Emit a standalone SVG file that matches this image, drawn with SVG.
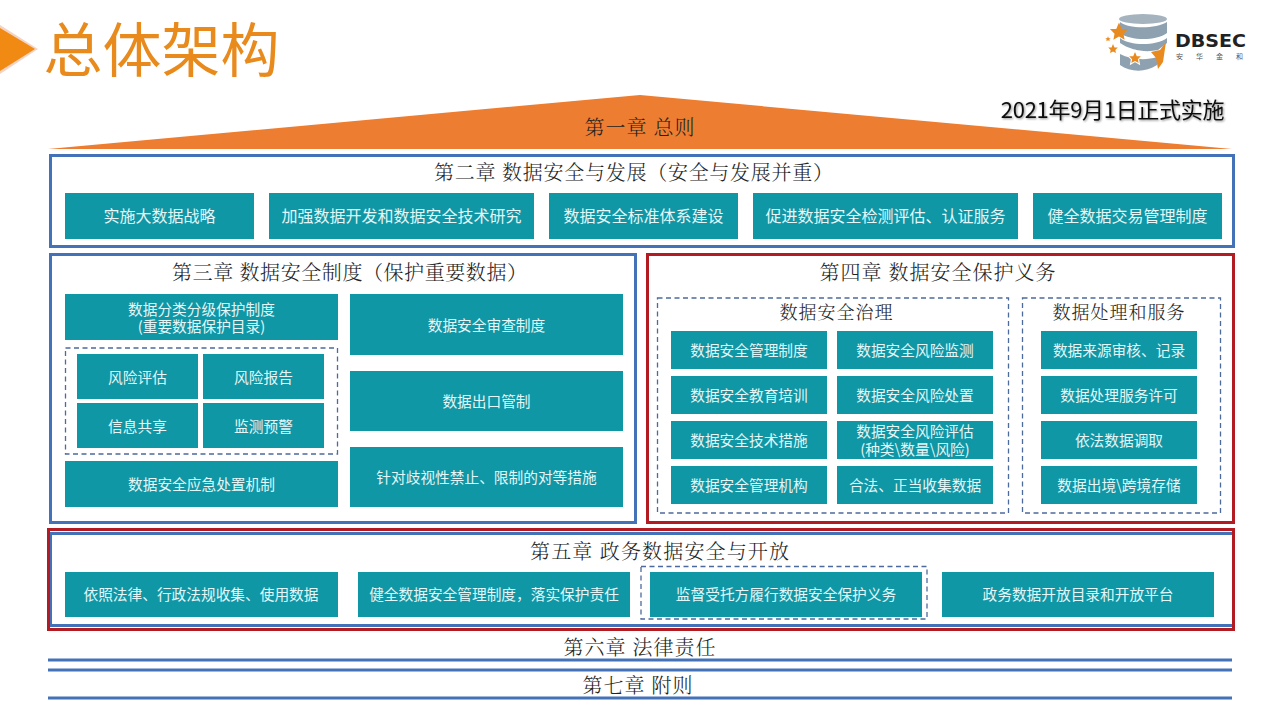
<svg xmlns="http://www.w3.org/2000/svg" width="1280" height="720" viewBox="0 0 1280 720">
<defs>
<filter id="ts" x="-5%" y="-20%" width="110%" height="140%"><feDropShadow dx="1" dy="1" stdDeviation="0.8" flood-color="#000" flood-opacity="0.45"/></filter>
<polygon id="star" points="0,-10 2.9,-3.1 9.5,-3.1 4.7,1.8 5.9,8.1 0,4.8 -5.9,8.1 -4.7,1.8 -9.5,-3.1 -2.9,-3.1"/>
</defs>
<style>
.b{fill:#0f97a6}
.t{font-family:"Noto Sans CJK SC","Liberation Sans",sans-serif;font-size:14.7px;fill:#e4f6f8;text-anchor:middle;dominant-baseline:central}
.l{font-size:16px}
.h{font-family:"Noto Serif CJK SC","Noto Sans CJK SC",serif;font-size:20px;font-weight:300;fill:#222;text-anchor:middle;dominant-baseline:central;letter-spacing:1px}
.bl{fill:none;stroke:#4472b8;stroke-width:3}
.rd{fill:none;stroke:#b31b22;stroke-width:3}
.d{fill:none;stroke:#4d6a9c;stroke-width:1.3;stroke-dasharray:5 3.5}
.ln{stroke:#4472b8;stroke-width:3}
</style>
<rect width="1280" height="720" fill="#fff"/>
<g id="title">
<polygon points="0,25 38,49 0,74" fill="#f3d3c4"/>
<polygon points="0,28 35,49 0,71" fill="#f08a12"/>
<text x="43.500" y="72" font-family="Noto Sans CJK SC,sans-serif" font-size="59" fill="#e88a1c">总体架构</text>
</g>
<g id="logo">
<ellipse cx="1143" cy="19" rx="24" ry="5" fill="#a5b3bf"/>
<path d="M1120,22C1128,29 1156,29 1167,22V33C1156,41 1131,41 1120,33Z" fill="#8ea1b1"/>
<path d="M1120,38C1130,46 1156,46 1167,38V43L1158,50C1145,53 1130,50 1120,43Z" fill="#8ea1b1"/>
<path d="M1120,54C1130,59 1145,61 1157,57V65C1145,73 1130,72 1120,65Z" fill="#8ea1b1"/>
<path d="M1151,52L1160,50L1166,42L1163,62L1158,69L1156,58Z" fill="#e98a1e"/>
<use href="#star" transform="translate(1119,32) scale(.95)" fill="#e98a1e"/>
<use href="#star" transform="translate(1113,49) scale(.5)" fill="#e98a1e"/>
<use href="#star" transform="translate(1108,39) scale(.28)" fill="#e98a1e"/>
<use href="#star" transform="translate(1135,58) scale(.75)" fill="#e98a1e" stroke="#fff" stroke-width="1.500"/>
<text x="1175" y="47" font-family="DejaVu Sans,sans-serif" font-size="17.500" font-weight="700" fill="#222" textLength="71" lengthAdjust="spacingAndGlyphs">DBSEC</text>
<text x="1176" y="59" font-family="Noto Sans CJK SC,sans-serif" font-size="7" fill="#555">安</text>
<text x="1196" y="59" font-family="Noto Sans CJK SC,sans-serif" font-size="7" fill="#555">华</text>
<text x="1216" y="59" font-family="Noto Sans CJK SC,sans-serif" font-size="7" fill="#555">金</text>
<text x="1236" y="59" font-family="Noto Sans CJK SC,sans-serif" font-size="7" fill="#555">和</text>
</g>
<g id="date"><text x="1112.500" y="108" filter="url(#ts)" font-family="Noto Sans CJK SC,sans-serif" font-size="22" fill="#111" text-anchor="middle" dominant-baseline="central" letter-spacing="-.3">2021年9月1日正式实施</text></g>
<g id="ch1"><polygon points="48,149 640,95 1232,149" fill="#ed7d31"/><text class="h" x="640" y="126">第一章 总则</text></g>
<g id="ch2"><rect class="bl" x="50.500" y="155.500" width="1183" height="91"/><text class="h" x="634" y="171" textLength="400">第二章 数据安全与发展（安全与发展并重）</text>
<rect class="b" x="65" y="193" width="189" height="46"/><text class="t l" x="159.500" y="215">实施大数据战略</text>
<rect class="b" x="269" y="193" width="265" height="46"/><text class="t l" x="401.500" y="215">加强数据开发和数据安全技术研究</text>
<rect class="b" x="549" y="193" width="189" height="46"/><text class="t l" x="643.500" y="215">数据安全标准体系建设</text>
<rect class="b" x="753" y="193" width="265" height="46"/><text class="t l" x="885.500" y="215">促进数据安全检测评估、认证服务</text>
<rect class="b" x="1033" y="193" width="189" height="46"/><text class="t l" x="1127.500" y="215">健全数据交易管理制度</text></g>
<g id="ch3"><rect class="bl" x="50.500" y="254.500" width="585" height="268"/><text class="h" x="350" y="271" textLength="356">第三章 数据安全制度（保护重要数据）</text>
<rect class="b" x="65" y="294" width="273" height="46"/><text class="t"><tspan x="201.500" y="308">数据分类分级保护制度</tspan><tspan x="201.500" y="325">(重要数据保护目录)</tspan></text>
<rect class="d" x="65.500" y="348" width="272" height="106"/>
<rect class="b" x="77" y="354" width="121" height="45"/><text class="t" x="137.500" y="376">风险评估</text>
<rect class="b" x="203" y="354" width="121" height="45"/><text class="t" x="263.500" y="376">风险报告</text>
<rect class="b" x="77" y="403" width="121" height="45"/><text class="t" x="137.500" y="425">信息共享</text>
<rect class="b" x="203" y="403" width="121" height="45"/><text class="t" x="263.500" y="425">监测预警</text>
<rect class="b" x="65" y="461" width="273" height="46"/><text class="t" x="201.500" y="483">数据安全应急处置机制</text>
<rect class="b" x="350" y="294" width="273" height="61"/><text class="t" x="486.500" y="324">数据安全审查制度</text>
<rect class="b" x="350" y="371" width="273" height="60"/><text class="t" x="486.500" y="400">数据出口管制</text>
<rect class="b" x="350" y="447" width="273" height="60"/><text class="t" x="486.500" y="476">针对歧视性禁止、限制的对等措施</text></g>
<g id="ch4"><rect class="rd" x="647.500" y="254.500" width="586" height="268"/><text class="h" x="938" y="271">第四章 数据安全保护义务</text>
<rect class="d" x="657.500" y="298" width="351" height="215"/><text class="h" x="836.500" y="311" style="font-size:18px">数据安全治理</text>
<rect class="b" x="671" y="331" width="156" height="38"/><text class="t" x="749" y="349">数据安全管理制度</text>
<rect class="b" x="837" y="331" width="156" height="38"/><text class="t" x="915" y="349">数据安全风险监测</text>
<rect class="b" x="671" y="376" width="156" height="38"/><text class="t" x="749" y="394">数据安全教育培训</text>
<rect class="b" x="837" y="376" width="156" height="38"/><text class="t" x="915" y="394">数据安全风险处置</text>
<rect class="b" x="671" y="421" width="156" height="38"/><text class="t" x="749" y="439">数据安全技术措施</text>
<rect class="b" x="837" y="421" width="156" height="38"/><text class="t"><tspan x="915" y="430">数据安全风险评估</tspan><tspan x="915" y="448">(种类\数量\风险)</tspan></text>
<rect class="b" x="671" y="466" width="156" height="38"/><text class="t" x="749" y="484">数据安全管理机构</text>
<rect class="b" x="837" y="466" width="156" height="38"/><text class="t" x="915" y="484">合法、正当收集数据</text>
<rect class="d" x="1022.500" y="298" width="198" height="215"/><text class="h" x="1119" y="311" style="font-size:18px">数据处理和服务</text>
<rect class="b" x="1041" y="331" width="156" height="38"/><text class="t" x="1119" y="349">数据来源审核、记录</text>
<rect class="b" x="1041" y="376" width="156" height="38"/><text class="t" x="1119" y="394">数据处理服务许可</text>
<rect class="b" x="1041" y="421" width="156" height="38"/><text class="t" x="1119" y="439">依法数据调取</text>
<rect class="b" x="1041" y="466" width="156" height="38"/><text class="t" x="1119" y="484">数据出境\跨境存储</text></g>
<g id="ch5"><rect class="bl" x="50.500" y="533.500" width="1183" height="92"/><rect class="rd" x="48.500" y="529.500" width="1185" height="100"/><text class="h" x="660" y="550" textLength="260">第五章 政务数据安全与开放</text>
<rect class="b" x="65" y="572" width="273" height="45"/><text class="t" x="201" y="593">依照法律、行政法规收集、使用数据</text>
<rect class="b" x="358" y="572" width="272" height="45"/><text class="t" x="494" y="593">健全数据安全管理制度，落实保护责任</text>
<rect class="d" x="641" y="566.500" width="286" height="52.500"/>
<rect class="b" x="650" y="572" width="272" height="45"/><text class="t" x="786" y="593">监督受托方履行数据安全保护义务</text>
<rect class="b" x="942" y="572" width="272" height="45"/><text class="t" x="1078" y="593">政务数据开放目录和开放平台</text></g>
<g id="ch6"><line class="ln" x1="48" y1="660" x2="1232" y2="660"/><text class="h" x="640" y="646">第六章 法律责任</text></g>
<g id="ch7"><line class="ln" x1="48" y1="670" x2="1232" y2="670"/><line class="ln" x1="48" y1="698" x2="1232" y2="698"/><text class="h" x="638" y="684">第七章 附则</text></g>
</svg>
